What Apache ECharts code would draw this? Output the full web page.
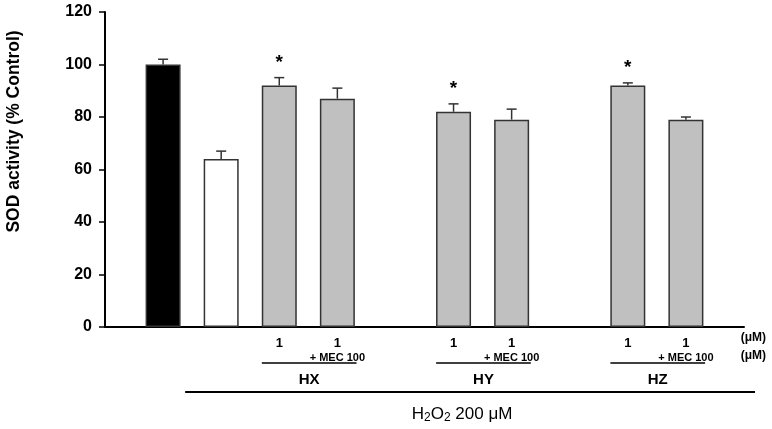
<!DOCTYPE html>
<html>
<head>
<meta charset="utf-8">
<script src="https://cdn.jsdelivr.net/npm/echarts@6/dist/echarts.min.js"></script>
<style>html,body{margin:0;padding:0;background:#fff}#c{width:772px;height:429px}</style>
</head>
<body>
<div id="c"></div>
<script>
// ---- data ----
var categories = ['', 'Control', 'H2O2', 'HX 1', 'HX 1 + MEC 100', '', 'HY 1', 'HY 1 + MEC 100', '', 'HZ 1', 'HZ 1 + MEC 100', ''];
var tickLabels = ['', '', '', '1', '1|+ MEC 100', '', '1', '1|+ MEC 100', '', '1', '1|+ MEC 100', ''];
var values = ['-', 100, 64, 92, 87, '-', 82, 79, '-', 92, 79, '-'];
var errTops = [null, 102, 67, 95, 91, null, 85, 83, null, 93, 80, null];
var signif = ['', '', '', '*', '', '', '*', '', '', '*', '', ''];
var groupNames = ['HX', 'HY', 'HZ'];
var groupStart = [3, 6, 9];
var groupEnd = [4, 7, 10];
var treatmentLabel = 'H2O2 200 μM';
var treatmentStart = 1;
var treatmentEnd = 11;
var unitLabels = ['(μM)', '(μM)'];
var yTicks = [0, 20, 40, 60, 80, 100, 120];

var FONT = '"Liberation Sans", Arial, sans-serif';
function fillFor(i) {
  if (i === 1) return '#000000';
  if (i === 2) return '#ffffff';
  return '#c0c0c0';
}

var barData = values.map(function (v, i) {
  return { value: v, itemStyle: { color: fillFor(i) } };
});
var errData = [];
values.forEach(function (v, i) {
  if (v !== '-' && errTops[i] != null) errData.push([i, errTops[i], v, signif[i]]);
});
var groupData = groupNames.map(function (n, i) { return [groupStart[i], groupEnd[i], n]; });

var chart = echarts.init(document.getElementById('c'), null, { renderer: 'canvas' });
chart.setOption({
  animation: false,
  backgroundColor: '#ffffff',
  grid: { left: 105, right: 28, top: 12, bottom: 102, containLabel: false, outerBoundsMode: 'none' },
  xAxis: {
    type: 'category',
    data: categories,
    boundaryGap: false,
    axisLine: { lineStyle: { color: '#000', width: 2 } },
    axisTick: { show: false },
    splitLine: { show: false },
    axisLabel: {
      interval: 0,
      margin: 9,
      formatter: function (val, idx) {
        var t = tickLabels[idx];
        if (!t) return '';
        var parts = t.split('|');
        return parts.length > 1 ? '{a|' + parts[0] + '}\n{b|' + parts[1] + '}' : '{a|' + parts[0] + '}';
      },
      rich: {
        a: { fontFamily: FONT, fontWeight: 'bold', fontSize: 13, lineHeight: 15, color: '#000' },
        b: { fontFamily: FONT, fontWeight: 'bold', fontSize: 11, lineHeight: 13, color: '#000' }
      }
    }
  },
  yAxis: {
    type: 'value',
    min: 0, max: 120, interval: 20,
    name: 'SOD activity (% Control)',
    nameLocation: 'middle',
    nameRotate: 90,
    nameGap: 82,
    nameTextStyle: { fontFamily: FONT, fontWeight: 'bold', fontSize: 17.5, color: '#000', padding: [0, 0, 0, 76] },
    axisLine: { show: true, lineStyle: { color: '#000', width: 2 } },
    axisTick: { show: true, length: 6, lineStyle: { color: '#000', width: 1.5 } },
    splitLine: { show: false },
    axisLabel: {
      margin: 13,
      fontFamily: FONT, fontWeight: 'bold', fontSize: 16, color: '#000',
      formatter: function (v) { return yTicks.indexOf(v) >= 0 ? String(v) : ''; }
    }
  },
  series: [
    {
      type: 'bar',
      data: barData,
      barWidth: 35,
      itemStyle: { borderColor: '#333', borderWidth: 1.5 },
      z: 2
    },
    {
      type: 'custom',
      data: errData,
      z: 3,
      clip: false,
      renderItem: function (params, api) {
        var x = api.coord([api.value(0), api.value(2)])[0];
        var yb = api.coord([api.value(0), api.value(2)])[1];
        var yt = api.coord([api.value(0), api.value(1)])[1];
        var star = errData[params.dataIndex][3];
        var ch = [
          { type: 'line', shape: { x1: x, y1: yb, x2: x, y2: yt }, style: { stroke: '#333', lineWidth: 1.5 } },
          { type: 'line', shape: { x1: x - 5, y1: yt, x2: x + 5, y2: yt }, style: { stroke: '#333', lineWidth: 1.5 } }
        ];
        if (star) {
          ch.push({ type: 'text', style: { text: star, x: x, y: yt - 15, align: 'center', verticalAlign: 'middle',
            font: 'bold 19px ' + FONT, fill: '#000' } });
        }
        return { type: 'group', children: ch };
      }
    },
    {
      type: 'custom',
      data: groupData,
      z: 3,
      clip: false,
      renderItem: function (params, api) {
        var x0 = api.coord([0, 0])[0];
        var step = api.coord([1, 0])[0] - x0;
        var yAxisPx = api.coord([0, 0])[1];
        var xs = x0 + (api.value(0) - 0.3) * step;
        var xe = x0 + (api.value(1) + 0.33) * step;
        var ly = yAxisPx + 36;
        var name = groupData[params.dataIndex][2];
        var ch = [
          { type: 'line', shape: { x1: xs, y1: ly, x2: xe, y2: ly }, style: { stroke: '#000', lineWidth: 1.5 } },
          { type: 'text', style: { text: name, x: (xs + xe) / 2, y: ly + 17, align: 'center', verticalAlign: 'middle',
            font: 'bold 15px ' + FONT, fill: '#000' } }
        ];
        if (params.dataIndex === 0) {
          var ts = x0 + (treatmentStart + 0.38) * step;
          var te = x0 + (treatmentEnd + 0.19) * step;
          var ty = yAxisPx + 65;
          ch.push({ type: 'line', shape: { x1: ts, y1: ty, x2: te, y2: ty }, style: { stroke: '#000', lineWidth: 2 } });
          ch.push({ type: 'text', style: {
            text: '{m|H}{s|2}{m|O}{s|2}{m|' + treatmentLabel.slice(4) + '}',
            x: (ts + te) / 2 - 8, y: ty + 22, align: 'center', verticalAlign: 'middle',
            rich: {
              m: { fontFamily: FONT, fontSize: 17, lineHeight: 20, fill: '#000' },
              s: { fontFamily: FONT, fontSize: 12, lineHeight: 8, verticalAlign: 'bottom', fill: '#000' }
            }
          } });
        }
        return { type: 'group', children: ch };
      }
    }
  ],
  graphic: [
    { type: 'text', right: 6, top: 332, style: { text: unitLabels[0], font: 'bold 12px ' + FONT, fill: '#000' } },
    { type: 'text', right: 6, top: 350, style: { text: unitLabels[1], font: 'bold 12px ' + FONT, fill: '#000' } }
  ]
});
</script>
</body>
</html>
